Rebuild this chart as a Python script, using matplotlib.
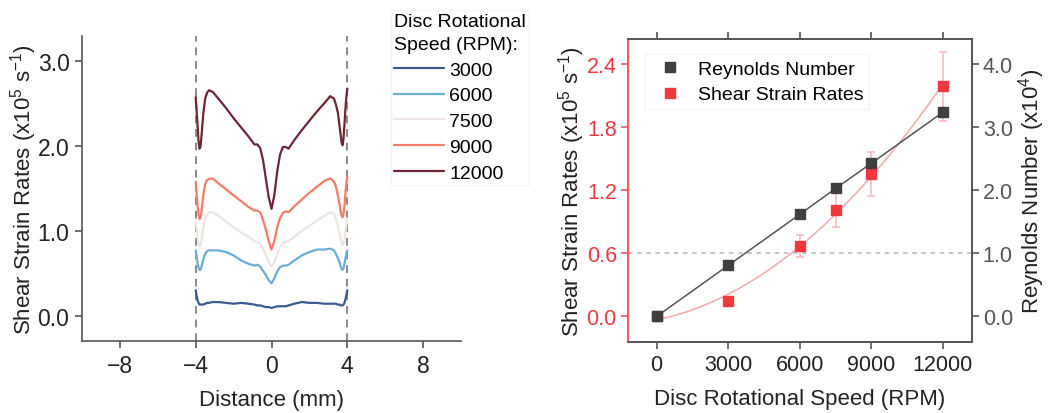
import numpy as np
import matplotlib.pyplot as plt

plt.rcParams['font.family'] = ['Liberation Sans', 'DejaVu Sans']
plt.rcParams['mathtext.fontset'] = 'custom'
plt.rcParams['mathtext.rm'] = 'Liberation Sans'
plt.rcParams['mathtext.it'] = 'Liberation Sans:italic'
plt.rcParams['mathtext.bf'] = 'Liberation Sans:bold'

# shear strain rate profiles across the channel (x1e5 1/s)
distance = [-4.0, -3.95, -3.9, -3.85, -3.8, -3.75, -3.7, -3.6, -3.5, -3.4, -3.3, -3.1,
            -2.8, -2.4, -2.0, -1.6, -1.2, -0.9, -0.75, -0.6, -0.45, -0.3, -0.15, 0.0,
            0.15, 0.3, 0.45, 0.6, 0.75, 0.9, 1.2, 1.6, 2.0, 2.4, 2.8, 3.1, 3.3, 3.4,
            3.5, 3.6, 3.65, 3.7, 3.75, 3.8, 3.85, 3.9, 3.95, 4.0]

profile_3000 = [0.30, 0.23, 0.18, 0.15, 0.13, 0.13, 0.13, 0.13, 0.14, 0.15, 0.15, 0.16,
                0.16, 0.15, 0.14, 0.15, 0.14, 0.13, 0.12, 0.12, 0.11, 0.10, 0.10, 0.09,
                0.10, 0.11, 0.11, 0.11, 0.11, 0.12, 0.14, 0.16, 0.15, 0.15, 0.14, 0.14,
                0.14, 0.14, 0.13, 0.13, 0.12, 0.12, 0.12, 0.13, 0.15, 0.19, 0.24, 0.30]
profile_6000 = [0.77, 0.70, 0.62, 0.57, 0.54, 0.54, 0.57, 0.66, 0.73, 0.76, 0.77, 0.77,
                0.77, 0.75, 0.71, 0.65, 0.61, 0.59, 0.60, 0.58, 0.53, 0.48, 0.42, 0.38,
                0.44, 0.52, 0.57, 0.59, 0.59, 0.60, 0.65, 0.71, 0.75, 0.78, 0.78, 0.79,
                0.77, 0.73, 0.68, 0.62, 0.58, 0.55, 0.54, 0.56, 0.61, 0.67, 0.73, 0.77]
profile_7500 = [1.12, 1.02, 0.92, 0.85, 0.82, 0.83, 0.88, 1.03, 1.14, 1.19, 1.22, 1.22,
                1.18, 1.11, 1.04, 0.98, 0.93, 0.88, 0.87, 0.85, 0.79, 0.72, 0.63, 0.58,
                0.63, 0.73, 0.81, 0.86, 0.87, 0.88, 0.93, 1.00, 1.06, 1.12, 1.18, 1.22,
                1.20, 1.15, 1.06, 0.96, 0.90, 0.86, 0.83, 0.84, 0.90, 0.99, 1.08, 1.15]
profile_9000 = [1.58, 1.44, 1.30, 1.19, 1.14, 1.15, 1.22, 1.42, 1.55, 1.60, 1.61, 1.62,
                1.56, 1.49, 1.42, 1.35, 1.28, 1.24, 1.24, 1.22, 1.13, 1.02, 0.88, 0.78,
                0.88, 1.04, 1.15, 1.21, 1.23, 1.22, 1.29, 1.37, 1.45, 1.52, 1.59, 1.62,
                1.58, 1.52, 1.42, 1.30, 1.23, 1.18, 1.16, 1.20, 1.30, 1.44, 1.57, 1.64]
profile_12000 = [2.58, 2.42, 2.24, 2.06, 1.97, 1.99, 2.10, 2.38, 2.56, 2.63, 2.66, 2.64,
                 2.56, 2.45, 2.33, 2.22, 2.11, 2.02, 2.02, 1.98, 1.84, 1.62, 1.40, 1.26,
                 1.42, 1.70, 1.90, 1.99, 1.99, 1.97, 2.07, 2.19, 2.30, 2.41, 2.51, 2.59,
                 2.56, 2.49, 2.40, 2.22, 2.13, 2.04, 2.01, 2.09, 2.26, 2.44, 2.58, 2.68]

profile_labels = ['3000', '6000', '7500', '9000', '12000']
profile_colors = ['#3b5b90', '#6baed6', '#ede5e3', '#f57b66', '#6e2632']

# summary vs disc speed
rpm = [0, 3000, 6000, 7500, 9000, 12000]
reynolds = [0.0, 0.81, 1.62, 2.03, 2.43, 3.24]          # x1e4
shear_rate = [0.0, 0.143, 0.667, 1.013, 1.352, 2.19]     # x1e5 1/s
shear_err = [0.0, 0.0, 0.105, 0.165, 0.21, 0.33]

fig = plt.figure(figsize=(10.62, 4.14), dpi=100)

# ---- left panel: profiles
ax = fig.add_axes([0.0772, 0.1739, 0.3569, 0.7367])
profiles = [profile_3000, profile_6000, profile_7500, profile_9000, profile_12000]
for prof, lab, col in zip(profiles, profile_labels, profile_colors):
    ax.plot(distance, prof, color=col, lw=1.6, label=lab,
            solid_capstyle='round', solid_joinstyle='round')
for xv in (-4, 4):
    ax.axvline(xv, color='#8a8a8a', lw=1.4, ls=(0, (4, 3)), zorder=0)

ax.set_xlim(-10, 10)
ax.set_ylim(-0.3, 3.3)
ax.set_xticks([-8, -4, 0, 4, 8])
ax.set_yticks([0.0, 1.0, 2.0, 3.0])
ax.set_yticklabels(['0.0', '1.0', '2.0', '3.0'])
for s in ('top', 'right'):
    ax.spines[s].set_visible(False)
for s in ('left', 'bottom'):
    ax.spines[s].set_color('#555555')
    ax.spines[s].set_linewidth(1.2)
ax.tick_params(direction='out', length=5, width=1.2, color='#555555',
               labelsize=16.5, labelcolor='#222222', pad=4)
ax.set_xlabel('Distance (mm)', fontsize=16, color='#222222', labelpad=9)
ax.set_ylabel('Shear Strain Rates (x10$^5$ s$^{-1}$)', fontsize=16, color='#222222', labelpad=-1)

leg = fig.legend(loc='upper left', bbox_to_anchor=(391 / 1062, 1 - 11 / 414),
                 title='Disc Rotational\nSpeed (RPM):', fontsize=14, title_fontsize=14,
                 handlelength=2.6, handletextpad=0.25, labelspacing=0.42,
                 borderpad=0.15, borderaxespad=0, frameon=True, fancybox=False,
                 alignment='left')
leg.get_title().set_linespacing(1.45)
leg.get_frame().set_edgecolor('#f2f2f2')
leg.get_frame().set_linewidth(1.0)

# ---- right panel: shear rate and Reynolds number vs speed
ax1 = fig.add_axes([0.5913, 0.1722, 0.3236, 0.7312])
ax2 = ax1.twinx()

red = '#ee3a3f'
ax1.axhline(0.6, color='#b5b5b5', lw=1.1, ls=(0, (3, 3)), zorder=0)

coef = np.polyfit(rpm, shear_rate, 2)
rpm_fit = np.linspace(0, 12000, 200)
ax1.plot(rpm_fit, np.polyval(coef, rpm_fit), color='#f7a8a8', lw=1.1, zorder=1)
ax1.errorbar(rpm, shear_rate, yerr=shear_err, fmt='none', ecolor='#f6b6b6',
             elinewidth=1.1, capsize=3, capthick=1.1, zorder=2)
ax1.plot(rpm, shear_rate, ls='none', marker='s', ms=7, color=red, mec=red, zorder=3)

ax2.plot(rpm, reynolds, color='#555555', lw=1.1, marker='s', ms=7,
         mfc='#3f3f3f', mec='#3f3f3f', zorder=3)

ax1.set_xlim(-1200, 13200)
ax1.set_ylim(-0.24, 2.64)
ax2.set_ylim(-0.4, 4.4)
ax1.set_xticks(rpm[:3] + rpm[4:])
ax1.set_yticks([0.0, 0.6, 1.2, 1.8, 2.4])
ax1.set_yticklabels(['0.0', '0.6', '1.2', '1.8', '2.4'])
ax2.set_yticks([0.0, 1.0, 2.0, 3.0, 4.0])
ax2.set_yticklabels(['0.0', '1.0', '2.0', '3.0', '4.0'])

for a in (ax1, ax2):
    for s in a.spines.values():
        s.set_linewidth(1.2)
        s.set_color('#555555')
    a.spines['left'].set_color('#f2575c')
ax1.tick_params(axis='x', direction='out', length=5, width=1.2, color='#555555',
                labelsize=15.5, labelcolor='#222222', pad=4, top=True)
ax1.tick_params(axis='y', direction='out', length=5, width=1.2, color='#f2575c',
                labelsize=15.5, labelcolor=red, pad=3)
ax2.tick_params(axis='y', direction='out', length=5, width=1.2, color='#555555',
                labelsize=15.5, labelcolor='#555555', pad=3)

ax1.set_xlabel('Disc Rotational Speed (RPM)', fontsize=16, color='#222222', labelpad=9)
ax1.set_ylabel('Shear Strain Rates (x10$^5$ s$^{-1}$)', fontsize=16, color='#222222', labelpad=0)
ax2.set_ylabel('Reynolds Number (x10$^4$)', fontsize=16, color='#222222', labelpad=2)

h1 = ax2.lines[0]
h2 = ax1.lines[-1]
leg2 = ax1.legend([h1, h2], ['Reynolds Number', 'Shear Strain Rates'],
                  loc='upper left', bbox_to_anchor=(0.05, 0.95), fontsize=14,
                  handlelength=2.0, handletextpad=0.4, labelspacing=0.42,
                  borderpad=0.3, borderaxespad=0, frameon=True, fancybox=False)
leg2.get_frame().set_edgecolor('#f2f2f2')
leg2.set_zorder(5)
# markers only in the legend
leg2.legend_handles[0].set_linestyle('none')

fig.savefig('out.png', dpi=100)
